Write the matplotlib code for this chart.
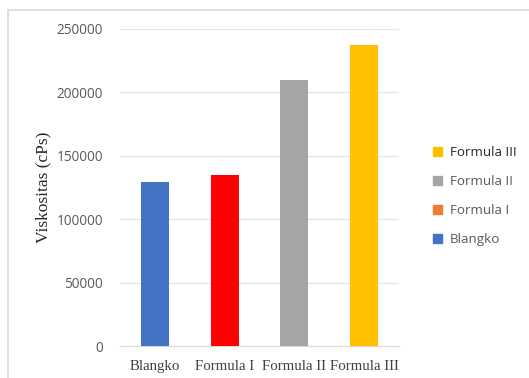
import matplotlib.pyplot as plt
from matplotlib.patches import Patch, Rectangle

categories = ['Blangko', 'Formula I', 'Formula II', 'Formula III']
values = [129000, 134500, 209500, 237500]
bar_colors = ['#4472C4', '#FF0000', '#A5A5A5', '#FFC000']
legend_colors = ['#4472C4', '#ED7D31', '#A5A5A5', '#FFC000']
yticks = [0, 50000, 100000, 150000, 200000, 250000]

fig = plt.figure(figsize=(5.29, 3.78), dpi=100)
fig.patches.append(Rectangle((8 / 529, -0.1), 1.2, 1 - 10 / 378 + 0.1,
                             transform=fig.transFigure, fill=False,
                             edgecolor='#D9D9D9', linewidth=1.2))
ax = fig.add_axes([120 / 529, 1 - 346 / 378, 279 / 529, 317 / 378])

x = range(len(categories))
ax.bar(x, values, width=0.4, color=bar_colors, zorder=3)
ax.set_xlim(-0.5, 3.5)
ax.set_ylim(0, 250000)
ax.set_yticks(yticks)
ax.set_yticklabels([str(t) for t in yticks], fontsize=9.8, color='#595959',
                   family='Open Sans')
ax.set_xticks(list(x))
ax.set_xticklabels(categories, family='Liberation Serif', fontsize=10.7,
                   color='#404040')
ax.grid(axis='y', color='#E6E6E6', linewidth=1, zorder=0)
for s in ['top', 'right', 'left']:
    ax.spines[s].set_visible(False)
ax.spines['bottom'].set_color('#D9D9D9')
ax.tick_params(axis='y', length=0, pad=12)
ax.tick_params(axis='x', length=0, pad=10)
ax.set_ylabel('Viskositas (cPs)', family='Liberation Serif', fontsize=12.5,
              color='#262626', labelpad=4)

handles = [Patch(color=c) for c in legend_colors][::-1]
labels = categories[::-1]
leg = fig.legend(handles, labels, loc='center left',
                 bbox_to_anchor=(421 / 529, 1 - 196 / 378), frameon=False,
                 handlelength=0.65, handleheight=0.65, handletextpad=0.6,
                 labelspacing=1.2, prop={'family': 'Open Sans', 'size': 9.6})
for i, t in enumerate(leg.get_texts()):
    t.set_color('#262626' if i == 0 else '#595959')

fig.savefig('out.png', dpi=100)
